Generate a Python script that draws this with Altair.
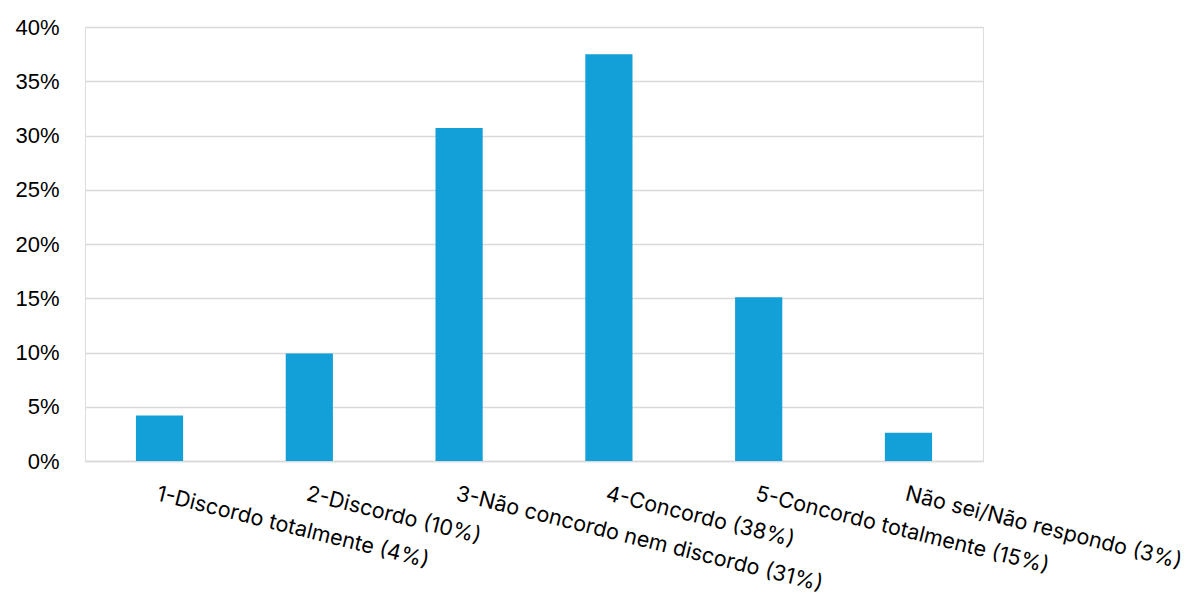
import altair as alt
import pandas as pd

categories = [
    "1-Discordo totalmente (4%)",
    "2-Discordo (10%)",
    "3-Não concordo nem discordo (31%)",
    "4-Concordo (38%)",
    "5-Concordo totalmente (15%)",
    "Não sei/Não respondo (3%)",
]
values = [0.042, 0.099, 0.307, 0.375, 0.151, 0.026]
y_ticks = [0, 0.05, 0.10, 0.15, 0.20, 0.25, 0.30, 0.35, 0.40]

df = pd.DataFrame({"cat": categories, "val": values})

chart = alt.Chart(df).mark_bar(color="#139FD7").encode(
    x=alt.X("cat:N", sort=categories, title=None,
            scale=alt.Scale(paddingInner=0.685, paddingOuter=0.34),
            axis=alt.Axis(labelAngle=14, labelAlign="left", labelBaseline="top",
                          labelPadding=22, labelFont="Inter", labelFontSize=21.5,
                          labelColor="#000000", ticks=False, domain=True,
                          domainColor="#d9d9d9", domainWidth=1.5, labelLimit=0)),
    y=alt.Y("val:Q", title=None,
            scale=alt.Scale(domain=[0, 0.40], nice=False),
            axis=alt.Axis(values=y_ticks, format=".0%", labelFont="Liberation Sans",
                          labelFontSize=22, labelColor="#000000", labelPadding=26,
                          ticks=False, domain=False, gridColor="#d9d9d9",
                          gridWidth=1.5)),
).properties(
    width=898, height=434,
    autosize=alt.AutoSizeParams(type="none"),
    padding={"left": 77, "top": 19, "right": 208, "bottom": 137},
).configure_view(stroke=None).configure(background="white")

chart.save("out.html", embed_options={"renderer": "svg", "actions": False})
